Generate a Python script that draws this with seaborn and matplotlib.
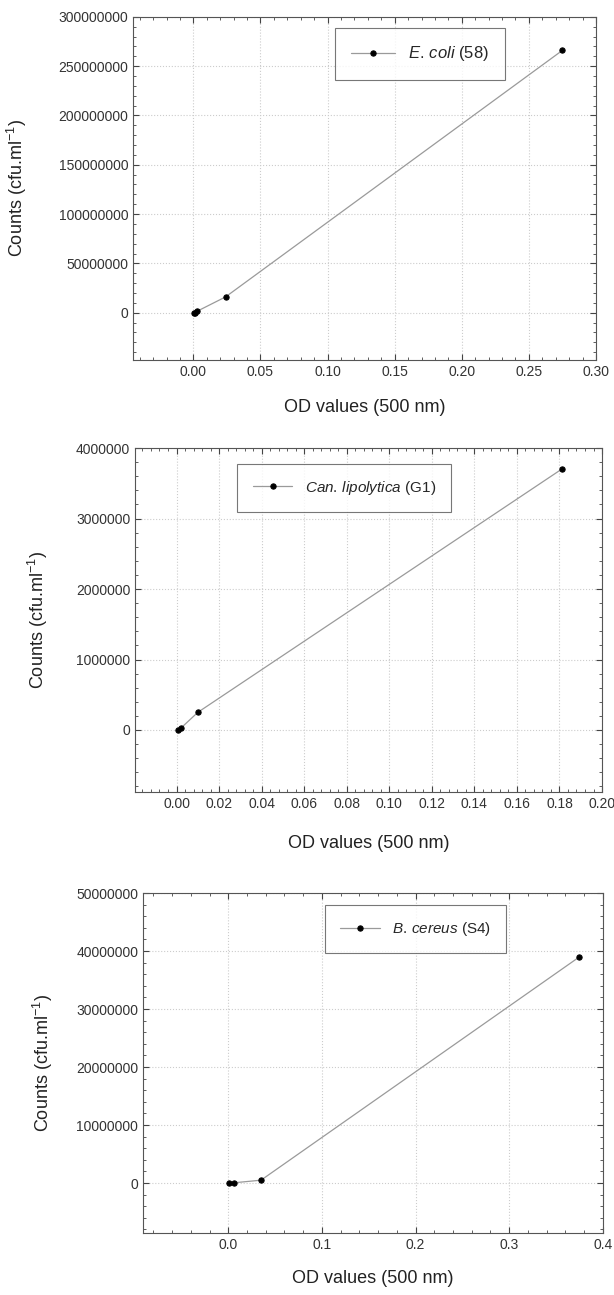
import numpy as np
import pandas as pd
import matplotlib
matplotlib.use("Agg")
import matplotlib.pyplot as plt
import seaborn as sns
from matplotlib.ticker import AutoMinorLocator, MultipleLocator

# Data
ecoli_od = [0.0005, 0.001, 0.003, 0.024, 0.275]
ecoli_counts = [25000, 160000, 1600000, 16000000, 266000000]

lipolytica_od = [0.0005, 0.002, 0.010, 0.181]
lipolytica_counts = [2500, 25000, 250000, 3700000]

cereus_od = [0.0005, 0.006, 0.035, 0.375]
cereus_counts = [5000, 50000, 500000, 39000000]

labels = [r"$\mathit{E.\,coli}$ (58)",
          r"$\mathit{Can.\,lipolytica}$ (G1)",
          r"$\mathit{B.\,cereus}$ (S4)"]

sns.set_style("ticks")
plt.rcParams['font.family'] = ['Liberation Sans', 'DejaVu Sans']
plt.rcParams['mathtext.fontset'] = 'custom'
plt.rcParams['mathtext.rm'] = 'Liberation Sans'
plt.rcParams['mathtext.it'] = 'Liberation Sans:italic'

fig = plt.figure(figsize=(6.14, 12.95), dpi=100)

panels = [
    dict(x=ecoli_od, y=ecoli_counts, label=labels[0],
         pos=[0.2166, 0.722, 0.754, 0.265],
         xlim=(-0.045, 0.30), xmaj=0.05, xfmt="{:.2f}",
         ylim=(-48000000, 300000000), ymaj=50000000,
         xlab_y=0.685, ylab_x=-0.225, leg=(0.62, 0.968), legfs=12),
    dict(x=lipolytica_od, y=lipolytica_counts, label=labels[1],
         pos=[0.2199, 0.3884, 0.7606, 0.2656],
         xlim=(-0.0195, 0.20), xmaj=0.02, xfmt="{:.2f}",
         ylim=(-880000, 4000000), ymaj=1000000,
         xlab_y=0.349, ylab_x=-0.182, leg=(0.448, 0.955), legfs=11),
    dict(x=cereus_od, y=cereus_counts, label=labels[2],
         pos=[0.2329, 0.0479, 0.749, 0.2625],
         xlim=(-0.091, 0.40), xmaj=0.1, xfmt="{:.1f}",
         ylim=(-8600000, 50000000), ymaj=10000000,
         xlab_y=0.013, ylab_x=-0.191, leg=(0.593, 0.965), legfs=11),
]

for p in panels:
    ax = fig.add_axes(p['pos'])
    df = pd.DataFrame({'od': p['x'], 'counts': p['y']})
    sns.lineplot(data=df, x='od', y='counts', ax=ax, color='#9a9a9a',
                 linewidth=0.9, marker='o', markersize=3.8,
                 markerfacecolor='black', markeredgecolor='black',
                 label=p['label'], sort=False)
    ax.set_xlim(*p['xlim'])
    ax.set_ylim(*p['ylim'])
    ax.xaxis.set_major_locator(MultipleLocator(p['xmaj']))
    ax.yaxis.set_major_locator(MultipleLocator(p['ymaj']))
    ax.xaxis.set_minor_locator(AutoMinorLocator(5))
    ax.yaxis.set_minor_locator(AutoMinorLocator(5))
    fmt = p['xfmt']
    ax.xaxis.set_major_formatter(plt.FuncFormatter(lambda v, _, f=fmt: f.format(v)))
    ax.yaxis.set_major_formatter(plt.FuncFormatter(lambda v, _: "{:d}".format(int(round(v)))))
    ax.tick_params(which='both', direction='in', top=True, right=True,
                   colors='#444444', labelsize=10, labelcolor='#333333')
    ax.tick_params(which='major', length=4, width=0.8)
    ax.tick_params(which='minor', length=2, width=0.6)
    for s in ax.spines.values():
        s.set_color('#555555')
        s.set_linewidth(0.8)
    ax.grid(True, which='major', linestyle=':', color='#cccccc', linewidth=0.8)
    ax.set_axisbelow(True)
    ax.set_xlabel("")
    ax.set_ylabel(r"Counts (cfu.ml$^{-1}$)", fontsize=13, color='#222222')
    ax.yaxis.set_label_coords(p['ylab_x'], 0.5)
    fig.text(p['pos'][0] + 0.5 * p['pos'][2], p['xlab_y'],
             "OD values (500 nm)", ha='center', va='center', fontsize=13,
             color='#222222')
    leg = ax.legend(loc='upper center', bbox_to_anchor=p['leg'], fontsize=p['legfs'],
                    frameon=True, fancybox=False, borderpad=1.0,
                    borderaxespad=0, handlelength=2.6, handletextpad=0.8)
    leg.get_frame().set_edgecolor('#555555')
    leg.get_frame().set_linewidth(0.8)

fig.savefig("out.png", dpi=100)
